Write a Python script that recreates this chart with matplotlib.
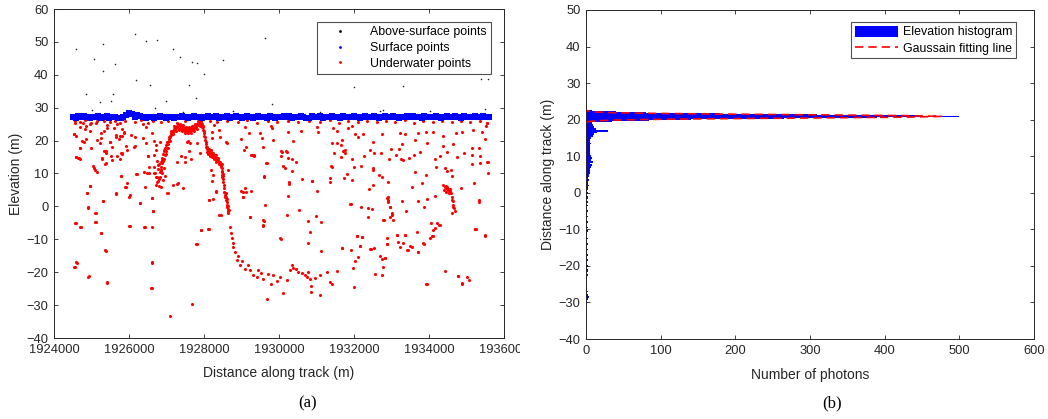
import matplotlib
matplotlib.use("Agg")
import matplotlib.pyplot as plt
from matplotlib.patches import Patch
from matplotlib.lines import Line2D
from matplotlib.transforms import Bbox, TransformedBbox

plt.rcParams['font.family'] = ['Liberation Sans', 'DejaVu Sans']

# ---- panel (a) data: along-track distance (m), elevation (m) ----
above_pts = [(1924596, 47.7), (1925058, 44.7), (1925307, 49.5), (1926151, 52.5), (1926462, 50.4),
             (1926756, 50.7), (1927173, 47.8), (1927369, 45.3), (1927689, 44.0), (1927813, 43.5),
             (1928516, 44.4), (1928009, 40.2), (1929618, 51.3), (1925307, 41.2), (1925618, 43.2),
             (1926195, 38.3), (1926560, 37.0), (1924862, 34.3), (1925582, 34.3), (1925227, 31.8),
             (1925511, 32.1), (1926996, 31.9), (1927600, 36.8), (1927796, 32.9), (1929822, 31.1),
             (1931991, 36.2), (1933298, 36.6), (1935387, 38.6), (1935582, 38.6), (1935502, 29.6),
             (1932702, 29.0), (1927440, 28.8), (1931084, 28.8), (1934018, 29.0), (1928773, 28.9),
             (1932773, 29.3), (1926700, 30.0), (1925000, 29.4)]

surf_x = [1924500, 1924575, 1924650, 1924725, 1924800, 1924875, 1924950, 1925025, 1925100, 1925175,
          1925250, 1925325, 1925400, 1925475, 1925550, 1925625, 1925700, 1925775, 1925850, 1925925,
          1926000, 1926075, 1926150, 1926225, 1926300, 1926375, 1926450, 1926525, 1926600, 1926675,
          1926750, 1926825, 1926900, 1926975, 1927050, 1927125, 1927200, 1927275, 1927350, 1927425,
          1927500, 1927575, 1927650, 1927725, 1927800, 1927875, 1927950, 1928025, 1928100, 1928175,
          1928250, 1928325, 1928400, 1928475, 1928550, 1928625, 1928700, 1928775, 1928850, 1928925,
          1929000, 1929075, 1929150, 1929225, 1929300, 1929375, 1929450, 1929525, 1929600, 1929675,
          1929750, 1929825, 1929900, 1929975, 1930050, 1930125, 1930200, 1930275, 1930350, 1930425,
          1930500, 1930575, 1930650, 1930725, 1930800, 1930875, 1930950, 1931025, 1931100, 1931175,
          1931250, 1931325, 1931400, 1931475, 1931550, 1931625, 1931700, 1931775, 1931850, 1931925,
          1932000, 1932075, 1932150, 1932225, 1932300, 1932375, 1932450, 1932525, 1932600, 1932675,
          1932750, 1932825, 1932900, 1932975, 1933050, 1933125, 1933200, 1933275, 1933350, 1933425,
          1933500, 1933575, 1933650, 1933725, 1933800, 1933875, 1933950, 1934025, 1934100, 1934175,
          1934250, 1934325, 1934400, 1934475, 1934550, 1934625, 1934700, 1934775, 1934850, 1934925,
          1935000, 1935075, 1935150, 1935225, 1935300, 1935375, 1935450, 1935525, 1935600]
surf_z = [27.3, 27.0, 27.4, 27.1, 27.5, 27.2, 26.9, 27.3, 27.1, 27.4,
          27.0, 27.2, 27.4, 26.9, 27.1, 27.3, 27.0, 26.8, 27.1, 27.9,
          28.4, 28.0, 27.3, 27.7, 27.6, 27.2, 27.0, 27.3, 27.1, 26.9,
          27.2, 27.4, 27.1, 27.0, 27.3, 27.2, 27.0, 27.3, 27.1, 27.4,
          27.2, 27.0, 27.3, 27.4, 27.1, 27.2, 27.0, 27.3, 27.5, 27.1,
          27.2, 27.4, 26.9, 27.2, 27.3, 27.5, 27.0, 27.2, 27.4, 27.1,
          26.9, 27.2, 27.4, 27.3, 27.0, 27.2, 27.5, 27.1, 27.3, 27.0,
          27.4, 27.2, 26.9, 27.3, 27.1, 27.4, 27.2, 27.5, 27.0, 27.3,
          27.1, 27.4, 27.2, 26.9, 26.8, 27.4, 27.1, 27.2, 27.5, 27.0,
          27.3, 27.2, 27.4, 27.1, 27.3, 27.0, 27.5, 27.2, 27.3, 27.1,
          27.4, 27.2, 27.0, 27.3, 27.5, 27.1, 27.2, 27.4, 27.3, 27.0,
          27.2, 27.5, 27.1, 27.3, 27.4, 27.2, 27.0, 27.3, 27.1, 27.4,
          27.2, 27.5, 27.1, 27.3, 27.0, 27.4, 27.2, 27.3, 27.1, 27.5,
          27.2, 27.0, 27.3, 27.4, 27.1, 27.2, 27.5, 27.3, 27.0, 27.4,
          27.2, 27.3, 27.1, 27.4, 27.2, 27.3, 27.5, 27.1, 27.3]

# red points just under the water surface
subsurface_pts = [(1924550, 26.0), (1924700, 25.6), (1924820, 26.2), (1924980, 25.5), (1925150, 25.9),
                  (1925320, 26.1), (1925480, 25.6), (1925620, 26.0), (1925760, 25.4), (1925900, 26.1),
                  (1926150, 25.8), (1926320, 26.2), (1926500, 25.5), (1926650, 26.0), (1926850, 25.7),
                  (1927050, 26.1), (1927500, 25.9), (1928150, 26.0), (1928350, 25.6), (1928600, 26.1),
                  (1928900, 25.8), (1929150, 26.2), (1929400, 25.5), (1929700, 26.0), (1929950, 25.7),
                  (1930250, 26.1), (1930500, 25.6), (1930800, 26.0), (1931100, 25.8), (1931350, 26.2),
                  (1931600, 25.5), (1931850, 26.0), (1932100, 25.7), (1932350, 26.1), (1932600, 25.6),
                  (1932850, 26.0), (1933100, 25.8), (1933350, 26.2), (1933600, 25.5), (1933850, 26.0),
                  (1934100, 25.7), (1934350, 26.1), (1934600, 25.6), (1934850, 26.0), (1935100, 25.8),
                  (1935350, 26.1), (1935550, 25.5)]

# dense seafloor return over the ridge and down the slope
ridge_pts = [(1926780, 11.5), (1926800, 12.8), (1926820, 10.4), (1926840, 13.5), (1926860, 12.0),
             (1926870, 14.6), (1926890, 13.2), (1926900, 15.8), (1926920, 14.5), (1926935, 16.9),
             (1926950, 15.6), (1926965, 17.8), (1926980, 16.8), (1926995, 18.7), (1927010, 17.9),
             (1927025, 19.6), (1927040, 18.9), (1927055, 20.5), (1927070, 20.0), (1927085, 21.4),
             (1927100, 21.0), (1927115, 22.3), (1927130, 21.8), (1927150, 23.0), (1927170, 22.6),
             (1927190, 23.6), (1927210, 23.2), (1927230, 24.2), (1927250, 23.8), (1927270, 24.5),
             (1927290, 24.0), (1927310, 24.8), (1927330, 23.6), (1927350, 24.3), (1927370, 23.9),
             (1927390, 24.6), (1927410, 23.4), (1927430, 24.0), (1927450, 23.2), (1927470, 23.8),
             (1927490, 22.9), (1927510, 23.6), (1927530, 23.1), (1927550, 22.6), (1927570, 23.4),
             (1927590, 22.8), (1927610, 23.5), (1927630, 22.9), (1927650, 23.7), (1927670, 23.2),
             (1927690, 24.0), (1927710, 23.5), (1927730, 24.3), (1927750, 23.8), (1927770, 24.6),
             (1927790, 24.2), (1927810, 25.0), (1927830, 24.6), (1927850, 25.4), (1927870, 25.0),
             (1927890, 25.8), (1927900, 25.2), (1927920, 25.5), (1927935, 24.8), (1927950, 25.1),
             (1927965, 24.0), (1927980, 23.2), (1927995, 22.4), (1928010, 21.3), (1928025, 20.2),
             (1928040, 19.0), (1928055, 18.2), (1928070, 17.4), (1928085, 16.6), (1928100, 17.0),
             (1928120, 16.2), (1928140, 16.8), (1928160, 15.8), (1928180, 16.4), (1928200, 15.5),
             (1928220, 16.0), (1928240, 15.0), (1928260, 15.6), (1928280, 14.6), (1928300, 15.1),
             (1928320, 14.2), (1928340, 14.6), (1928360, 13.8), (1928380, 14.1), (1928400, 13.4),
             (1928420, 13.0), (1928440, 12.6), (1928460, 12.2), (1928480, 11.6), (1928490, 10.4),
             (1928495, 9.2), (1928500, 8.4), (1928510, 7.5), (1928540, 4.5), (1928560, 3.5),
             (1928575, 2.9), (1928590, 1.8), (1928605, 0.4), (1928620, 1.2), (1928635, -0.8),
             (1928650, -2.1), (1928665, -1.2), (1928690, -6.2), (1928710, -8.0), (1928738, -9.7),
             (1928760, -11.0), (1928782, -12.2), (1928827, -13.8), (1928871, -16.3), (1928900, -15.0),
             (1928960, -17.8), (1929000, -16.5)]

# second layer of photons that thickens the ridge return
ridge_fringe_pts = [(1926850, 11.0), (1926880, 14.0), (1926910, 13.8), (1926945, 17.2), (1926975, 15.8),
                    (1927005, 19.0), (1927035, 17.6), (1927065, 21.0), (1927095, 19.8), (1927125, 22.8),
                    (1927160, 21.9), (1927200, 24.3), (1927240, 23.0), (1927280, 25.2), (1927320, 23.2),
                    (1927360, 25.0), (1927400, 22.8), (1927440, 24.6), (1927480, 22.4), (1927520, 24.2),
                    (1927560, 22.2), (1927600, 24.0), (1927640, 22.4), (1927680, 24.5), (1927720, 22.9),
                    (1927760, 25.1), (1927800, 23.6), (1927840, 25.9), (1927880, 24.4), (1927910, 26.0),
                    (1927945, 24.2), (1927975, 24.5), (1928000, 22.8), (1928030, 21.0), (1928050, 19.6),
                    (1928075, 18.0), (1928095, 15.8), (1928130, 17.3), (1928150, 15.3), (1928190, 17.0),
                    (1928210, 14.9), (1928250, 16.2), (1928270, 14.3), (1928310, 15.6), (1928330, 13.6),
                    (1928370, 14.8), (1928390, 13.0), (1928430, 13.6), (1928450, 11.9), (1928470, 12.8),
                    (1928485, 10.9), (1928505, 9.8), (1928520, 6.5), (1928530, 5.5), (1928550, 3.0),
                    (1928580, 4.0), (1928600, 2.4), (1928612, -0.3), (1928628, 0.2), (1928642, -1.5)]

# deep basin floor
trench_pts = [(1929182, -17.8), (1929227, -19.3), (1929316, -20.9), (1929449, -19.3), (1929582, -22.2),
              (1929671, -28.2), (1929716, -20.4), (1929849, -20.9), (1929938, -22.6), (1930027, -21.4),
              (1930116, -26.2), (1930293, -19.3), (1930356, -17.8), (1930382, -18.8), (1930516, -19.8),
              (1930604, -20.3), (1930693, -20.9), (1930738, -21.4), (1930827, -22.2), (1930844, -24.2),
              (1930844, -25.9), (1931093, -26.9), (1931093, -20.9), (1931271, -19.8), (1931360, -22.9),
              (1931404, -23.6), (1931538, -19.5), (1929090, -19.0), (1929400, -21.5), (1929520, -20.2),
              (1929780, -23.5), (1930200, -22.3), (1930450, -19.0), (1930780, -20.0), (1930950, -21.8)]

# small bright cluster near 1934.5 km
cluster_pts = [(1934380, 6.5), (1934420, 6.0), (1934450, 5.5), (1934480, 5.2), (1934500, 5.0),
               (1934530, 5.3), (1934560, 4.8), (1934590, 4.0), (1934610, 3.0), (1934630, 1.5),
               (1934650, 0.5), (1934670, -0.5), (1934690, -1.5), (1934400, 5.0), (1934460, 4.5),
               (1934520, 4.6), (1934570, 5.2), (1934600, 2.0), (1934640, -0.2), (1934440, 6.3),
               (1934490, 5.8), (1934545, 4.2)]

# scattered underwater noise photons
noise_pts = [(1924520, 21.9), (1924580, 15.0), (1924660, 14.7), (1924690, 17.7), (1924740, 19.8),
             (1924550, -4.9), (1924700, -6.3), (1924530, -18.3), (1924610, -17.1), (1924880, 4.2),
             (1924900, -0.3), (1924920, -21.3), (1924950, 6.2), (1924840, 24.3), (1924770, 25.5),
             (1924950, 22.8), (1925040, 12.2), (1925080, 11.0), (1925090, -2.1), (1925120, -4.8),
             (1925240, -8.1), (1925300, 1.6), (1925350, -13.4), (1925410, -23.1), (1925220, 19.3),
             (1925260, 20.8), (1925290, 14.3), (1925350, 13.0), (1925390, 16.7), (1925410, 24.8),
             (1925480, 19.7), (1925550, 18.0), (1925640, 4.0), (1925660, 21.8), (1925680, 15.4),
             (1925740, 20.4), (1925750, 14.4), (1925780, 9.3), (1925820, 16.2), (1925860, 22.4),
             (1925910, 6.0), (1925930, 18.4), (1925990, 3.0), (1926000, -5.9), (1926040, 21.7),
             (1926120, 18.2), (1926190, 9.9), (1926290, 1.0), (1926370, 20.9), (1926390, -6.3),
             (1926460, 19.2), (1926490, 10.0), (1926510, 15.2), (1926600, -16.9), (1926600, -24.8),
             (1926620, 2.7), (1926640, -1.4), (1926660, 12.0), (1926690, 10.0), (1926750, 9.0),
             (1926770, 7.6), (1926710, 6.5), (1926800, 8.3), (1926730, 17.1), (1926820, 19.7),
             (1927040, 4.1), (1927080, -33.4), (1927170, 6.6), (1927300, 7.1), (1927390, 15.2),
             (1927490, 13.4), (1927540, 19.5), (1927600, 16.8), (1927690, -29.6), (1927800, -11.3),
             (1927930, -7.1), (1928110, -6.9), (1928130, 2.0), (1928180, 11.1), (1928240, 9.6),
             (1928330, 4.5), (1928440, -2.7), (1928420, 13.1), (1928470, 9.6),
             (1924552, 25.4), (1924693, 24.0), (1924827, 23.4), (1924533, 21.9), (1924595, 21.5),
             (1924951, 25.0), (1925111, 25.4), (1925244, 22.2), (1925333, 23.0), (1925404, 23.7),
             (1925600, 23.7), (1925689, 25.0), (1925804, 23.4), (1925867, 22.7), (1925644, 21.2),
             (1925760, 21.5), (1925822, 21.5), (1924800, 19.7), (1924844, 20.4), (1925138, 20.2),
             (1925493, 19.7), (1926160, 21.0), (1926151, 18.4), (1925938, 17.1), (1924978, 17.7),
             (1924693, 17.7), (1925333, 16.9), (1925395, 16.1), (1925511, 15.3), (1925289, 14.6),
             (1925378, 13.3), (1925556, 14.1), (1925778, 16.3), (1925822, 15.8), (1924578, 14.9),
             (1924640, 14.8), (1924693, 14.4), (1925067, 11.6), (1925156, 10.5), (1925778, 9.2),
             (1926204, 9.8), (1926400, 10.5), (1926533, 10.2), (1924960, 6.2), (1924889, 4.0),
             (1925938, 7.0), (1925893, 5.8), (1925662, 3.8), (1926027, 3.5), (1926418, 6.0),
             (1926293, 0.9), (1925307, 1.6), (1924907, -0.4), (1925129, -2.1), (1926604, 2.6),
             (1926649, -1.3), (1924578, -5.0), (1924711, -6.2), (1925084, -4.8), (1925262, -8.2),
             (1925378, -13.5), (1926027, -5.9), (1926418, -6.2), (1926604, -6.2), (1924551, -18.5),
             (1924596, -17.0), (1924916, -21.4), (1925422, -23.2), (1926604, -17.1), (1926578, -24.9),
             (1926382, 25.0), (1926444, 24.0), (1926622, 22.4), (1926667, 20.0), (1926711, 18.7),
             (1926507, 15.4), (1926667, 15.6), (1926755, 13.8), (1926533, 12.1), (1926667, 10.1),
             (1926711, 8.8), (1926755, 7.5), (1926800, 6.2), (1926845, 5.8), (1926782, 12.5),
             (1926845, 11.1), (1926827, 9.0), (1926889, 10.1), (1926907, 8.0), (1926933, 11.6),
             (1929093, 24.2), (1929200, 22.4), (1928987, 20.4), (1929076, 17.1), (1929289, 15.6),
             (1929342, 15.6), (1929538, 20.9), (1929502, 22.2), (1929671, 13.3), (1929591, 9.0),
             (1929093, 5.5), (1929049, 2.9), (1929253, 4.7), (1929618, 0.4), (1929227, -3.1),
             (1929600, -4.3), (1929582, -5.7), (1928649, 11.1), (1928489, 8.8), (1928204, 7.8),
             (1928142, 1.9), (1928249, 2.2), (1928311, 4.7), (1928409, -2.6), (1927920, -7.2),
             (1928133, -7.0), (1927778, -11.4), (1927271, 6.7), (1927431, 5.5), (1927004, 4.0),
             (1926960, 9.2), (1927493, 14.9), (1927644, 14.3), (1927271, 13.6), (1927627, 19.2),
             (1927564, 20.0), (1927822, 19.2), (1927893, 16.3), (1928204, 20.7), (1928222, 22.7),
             (1928267, 24.7), (1928400, 23.2), (1928427, 21.2), (1928578, 19.7), (1928604, 19.2),
             (1929822, 23.7), (1929031, 4.3), (1929111, 18.2), (1929253, 15.5), (1929324, 15.4),
             (1929573, 18.2), (1929662, 13.1), (1929600, 9.1), (1928996, 4.6), (1929129, 4.3),
             (1929040, 3.0), (1929218, -3.1), (1929573, -4.1), (1929573, -5.9), (1929840, 20.2),
             (1929796, 24.3), (1930062, 16.9), (1930196, 16.7), (1930062, 15.2), (1930036, -9.6),
             (1930231, 22.5), (1930364, 20.0), (1930587, 22.9), (1930088, 16.6), (1930222, 16.6),
             (1930231, 14.8), (1930356, 14.3), (1930444, 13.6), (1930116, 12.4), (1930160, 11.8),
             (1930356, 10.9), (1930267, 7.5), (1930267, 6.7), (1930249, 3.2), (1930604, 8.4),
             (1930889, 7.7), (1931022, 4.7), (1930533, -1.2), (1930222, -2.6), (1930764, -4.4),
             (1930978, -3.0), (1931129, -4.7), (1930827, -7.8), (1930053, -9.8), (1930764, -11.0),
             (1931111, -13.5), (1931671, -12.7), (1932089, -9.0), (1932222, -9.4), (1932160, -11.9),
             (1932444, -12.9), (1932533, -12.6), (1931893, 0.7), (1932178, -0.1), (1932364, -0.6),
             (1932489, -0.8), (1932382, -3.3), (1932800, -4.1), (1932871, 2.5), (1932898, 1.3),
             (1931404, 19.4), (1931556, 19.4), (1931671, 20.2), (1931644, 18.7), (1931716, 16.9),
             (1931760, 17.1), (1931760, 16.1), (1931467, 16.1), (1931653, 15.1), (1931938, 14.3),
             (1931396, 12.4), (1931404, 12.1), (1932000, 12.1), (1932187, 12.3), (1932276, 15.3),
             (1932427, 17.1), (1932542, 16.1), (1932720, 16.1), (1932498, 11.6), (1932516, 11.1),
             (1932667, 9.5), (1932756, 8.8), (1932516, 6.5), (1932409, 5.3), (1931360, 8.5),
             (1931360, 7.5), (1931733, 8.7), (1931804, 9.8), (1931938, 8.0), (1930871, 7.8),
             (1931004, 24.2), (1931049, 22.7), (1931449, 23.7), (1931538, 22.9), (1931831, 23.9),
             (1931956, 24.4), (1932027, 21.9), (1932116, 21.0), (1932231, 21.9), (1932516, 19.5),
             (1932738, 22.0), (1932942, 14.3), (1931911, -13.3), (1932116, -15.3), (1931680, -12.7),
             (1931982, -18.8), (1932009, -24.4), (1932027, -16.6), (1931911, 0.7), (1932071, -9.0),
             (1932160, -12.0), (1932204, -9.4), (1932427, -13.0), (1932560, -20.5), (1932693, -15.1),
             (1932738, -16.1), (1932827, -15.6), (1932738, -20.9), (1932782, -18.5), (1932871, -11.5),
             (1932782, -4.1), (1932960, -3.1), (1933004, -2.1), (1933049, -4.1), (1932916, 2.9),
             (1932960, -0.1), (1933138, -8.7), (1933182, -10.7), (1933227, -12.2), (1933316, -11.2),
             (1933360, -8.7), (1933449, -13.3), (1933538, -12.2), (1933716, -13.8), (1933849, -11.2),
             (1933938, -23.7), (1934027, -9.7), (1934071, -9.0), (1934116, -7.2), (1934204, -5.1),
             (1934293, -5.7), (1934427, -19.5), (1934782, -21.2), (1934871, -23.6), (1935004, -21.4),
             (1935076, -22.4), (1935227, -7.0), (1935493, -9.0),
             (1933227, 22.2), (1933360, 21.9), (1933716, 22.2), (1933911, 22.7), (1934116, 22.7),
             (1934382, 21.4), (1934720, 22.2), (1934889, 22.7), (1935182, 23.2), (1935404, 22.7),
             (1935556, 25.3), (1932996, 17.4), (1933196, 17.4), (1933289, 18.9), (1933111, 15.6),
             (1933244, 14.3), (1933298, 14.1), (1933467, 14.6), (1933600, 15.6), (1933760, 16.4),
             (1933627, 20.2), (1933956, 19.2), (1934160, 14.3), (1934293, 15.3), (1934382, 18.4),
             (1934471, 16.6), (1934649, 18.9), (1934738, 14.9), (1934933, 16.1), (1935138, 17.7),
             (1935156, 15.6), (1935342, 17.7), (1935360, 15.3), (1935582, 13.6), (1935564, 10.1),
             (1935138, 12.8), (1934187, 12.1), (1934427, 11.6), (1934489, 10.9), (1934578, 11.1),
             (1934604, 9.1), (1933911, 9.5), (1933627, 10.5), (1933804, 7.0), (1933538, 5.8),
             (1932916, 7.5), (1933938, 2.2), (1933716, 1.7), (1933271, 1.6), (1934151, 3.2),
             (1934853, 5.5), (1935209, 7.2), (1935333, 1.2), (1933867, -0.3), (1933378, -1.4),
             (1934604, -1.9), (1934053, -5.1), (1934267, -5.7), (1934151, -6.7), (1934116, -9.0),
             (1933689, -7.7), (1933360, -8.7), (1933156, -8.7), (1933875, -11.4), (1933493, -11.9),
             (1933422, -13.3), (1933716, -14.0), (1935244, -6.9), (1934764, -21.2), (1934871, -23.4),
             (1933920, -23.6), (1932898, 2.0), (1932960, -0.3), (1933022, -2.6), (1932871, -9.7),
             (1932871, -11.4), (1932827, -15.8), (1935324, 1.9), (1935236, -7.0), (1935484, -8.7),
             (1935556, 13.6), (1935351, 13.1), (1935484, 20.5), (1935529, 24.3)]

# ---- panel (b) data: histogram of elevations and fitted curve ----
tail_elev = [-30.0, -29.5, -29.0, -28.5, -28.0, -27.5, -27.0, -26.5, -26.0, -25.5,
             -25.0, -24.5, -24.0, -23.5, -23.0, -22.5, -22.0, -21.5, -21.0, -20.5,
             -20.0, -19.5, -19.0, -18.5, -18.0, -17.5, -17.0, -16.5, -16.0, -15.5,
             -15.0, -14.5, -14.0, -13.5, -13.0, -12.5, -12.0, -11.5, -11.0, -10.5,
             -10.0, -9.5, -9.0, -8.5, -8.0, -7.5, -7.0, -6.5, -6.0, -5.5,
             -5.0, -4.5, -4.0, -3.5, -3.0, -2.5, -2.0, -1.5, -1.0, -0.5,
             0.0, 0.5, 1.0, 1.5, 2.0, 2.5, 3.0, 3.5, 4.0, 4.5,
             5.0, 5.5, 6.0, 6.5, 7.0, 7.5, 8.0, 8.5, 9.0, 9.5,
             10.0, 10.5, 11.0, 11.5, 12.0, 12.5, 13.0, 13.5, 14.0, 14.5,
             15.0, 15.5, 16.0, 16.5, 17.0, 17.5, 18.0, 18.5, 19.0]
tail_count = [3, 2, 3, 4, 3, 2, 3, 2, 2, 1,
              2, 2, 1, 2, 2, 3, 2, 3, 3, 2,
              3, 2, 2, 3, 2, 2, 3, 2, 2, 3,
              2, 2, 3, 2, 2, 3, 2, 2, 2, 3,
              2, 3, 2, 2, 3, 2, 2, 3, 2, 2,
              3, 2, 2, 3, 2, 3, 2, 3, 3, 2,
              3, 2, 3, 3, 4, 3, 3, 4, 3, 4,
              4, 5, 6, 5, 7, 8, 6, 9, 7, 8,
              7, 6, 5, 6, 5, 6, 5, 7, 6, 5,
              7, 10, 11, 15, 30, 13, 11, 9, 8]

peak_elev = [19.3, 19.4, 19.5, 19.6, 19.7, 19.8, 19.9, 20.0, 20.1, 20.2,
             20.3, 20.4, 20.5, 20.6, 20.7, 20.8, 20.9, 21.0, 21.1, 21.2,
             21.3, 21.4, 21.5, 21.6, 21.7, 21.8, 21.9, 22.0, 22.1, 22.2,
             22.3, 22.4, 22.5, 22.6, 22.7]
peak_count = [10, 20, 35, 50, 65, 85, 105, 140, 180, 220,
              265, 305, 350, 390, 430, 470, 500, 470, 440, 390,
              340, 310, 290, 230, 180, 140, 105, 80, 60, 40,
              25, 15, 8, 4, 2]

fit_elev = [19.3, 19.5, 19.7, 19.9, 20.1, 20.3, 20.5, 20.7, 20.9,
            21.1, 21.3, 21.5, 21.7, 21.9, 22.1, 22.3, 22.5]
fit_count = [1, 4, 14, 40, 98, 196, 321, 431, 476, 431, 321, 196, 98, 40, 14, 4, 1]

ink = '#262626'

fig = plt.figure(figsize=(10.48, 4.19), dpi=100)
ax1 = fig.add_axes([54 / 1048, 81 / 419, 450 / 1048, 329 / 419])
ax2 = fig.add_axes([586 / 1048, 80 / 419, 448 / 1048, 329 / 419])


def unzip(pts):
    return [p[0] for p in pts], [p[1] for p in pts]


ax_, az_ = unzip(above_pts)
ax1.scatter(ax_, az_, s=1.3, color='#222222', linewidths=0, zorder=2)
ax1.scatter(surf_x, surf_z, s=14, marker='s', color='blue', linewidths=0, zorder=3)
red = subsurface_pts + ridge_pts + ridge_fringe_pts + trench_pts + cluster_pts + noise_pts
rx, rz = unzip(red)
ax1.scatter(rx, rz, s=5, color='red', linewidths=0, zorder=2)

ax1.set_xlim(1924000, 1936000)
ax1.set_ylim(-40, 60)
ax1.set_xticks(range(1924000, 1936001, 2000))
ax1.set_yticks(range(-40, 61, 10))
ax1.ticklabel_format(useOffset=False, style='plain')
ax1.set_xlabel('Distance along track (m)', fontsize=10, color=ink)
ax1.set_ylabel('Elevation (m)', fontsize=10, color=ink)
ax1.xaxis.set_label_coords(0.5, -0.085)
ax1.yaxis.set_label_coords(-0.069, 0.5)

leg_h1 = [Line2D([], [], ls='none', marker='o', ms=2, mec='none', mfc='black'),
          Line2D([], [], ls='none', marker='o', ms=2, mec='none', mfc='blue'),
          Line2D([], [], ls='none', marker='o', ms=2, mec='none', mfc='red')]
leg1 = ax1.legend(leg_h1, ['Above-surface points', 'Surface points', 'Underwater points'],
                  loc='upper right', bbox_to_anchor=(0.971, 0.961), borderaxespad=0,
                  fontsize=8.9, frameon=True, fancybox=False, edgecolor=ink,
                  handlelength=3.0, handletextpad=0.9, labelspacing=0.3, borderpad=0.35)
leg1.get_frame().set_linewidth(0.8)

ax2.barh(tail_elev, tail_count, height=0.5, color='blue', edgecolor='none', zorder=2)
ax2.barh(peak_elev, peak_count, height=0.1, color='blue', edgecolor='none', zorder=2)
ax2.plot(fit_count, fit_elev, color='red', lw=1.2, dashes=(5, 3), zorder=3)
ax2.set_xlim(0, 600)
ax2.set_ylim(-40, 50)
ax2.set_xticks(range(0, 601, 100))
ax2.set_yticks(range(-40, 51, 10))
ax2.set_xlabel('Number of photons', fontsize=10, color=ink)
ax2.set_ylabel('Distance along track (m)', fontsize=10, color=ink)
ax2.xaxis.set_label_coords(0.5, -0.088)
ax2.yaxis.set_label_coords(-0.069, 0.5)

leg_h2 = [Patch(facecolor='blue', edgecolor='none'),
          Line2D([], [], color='red', lw=1.2, dashes=(5, 3))]
leg2 = ax2.legend(leg_h2, ['Elevation histogram', 'Gaussain fitting line'],
                  loc='upper right', bbox_to_anchor=(0.960, 0.964), borderaxespad=0,
                  fontsize=8.9, frameon=True, fancybox=False, edgecolor=ink,
                  handlelength=3.5, handleheight=1.0, handletextpad=0.4,
                  labelspacing=0.3, borderpad=0.3)
leg2.get_frame().set_linewidth(0.8)

for ax in (ax1, ax2):
    ax.tick_params(direction='in', top=True, right=True, length=3, width=0.6,
                   labelsize=9.3, colors=ink, pad=4)
    for sp in ax.spines.values():
        sp.set_color(ink)
        sp.set_linewidth(0.7)

fig.text(308 / 1048, 1 - 403 / 419, '(a)', ha='center', va='center',
         family=['Liberation Serif', 'DejaVu Serif'], fontsize=12)
fig.text(832 / 1048, 1 - 403 / 419, '(b)', ha='center', va='center',
         family=['Liberation Serif', 'DejaVu Serif'], fontsize=12)

# the right-most x label of panel (a) is cut by panel (b) in the original figure
fig.canvas.draw()
clip = TransformedBbox(Bbox([[0, 0], [520 / 1048, 1]]), fig.transFigure)
for lbl in ax1.get_xticklabels():
    lbl.set_clip_box(clip)
    lbl.set_clip_on(True)

fig.savefig('out.png', dpi=100)
